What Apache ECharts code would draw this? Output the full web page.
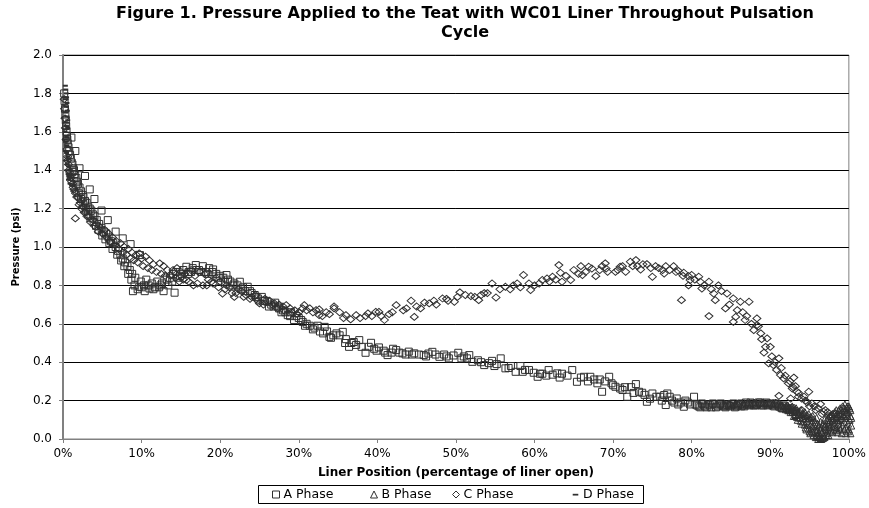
<!DOCTYPE html>
<html><head><meta charset="utf-8">
<script src="https://cdn.jsdelivr.net/npm/echarts@6/dist/echarts.min.js"></script>
<style>html,body{margin:0;padding:0;background:#fff}#c{width:869px;height:508px}</style>
</head><body><div id="c"></div>
<script>
const chartTitle = 'Figure 1. Pressure Applied to the Teat with WC01 Liner Throughout Pulsation\nCycle';
const xAxisTitle = 'Liner Position (percentage of liner open)';
const yAxisTitle = 'Pressure (psi)';
const seriesNames = ['A Phase', 'B Phase', 'C Phase', 'D Phase'];

// [liner position %, pressure psi]
const phaseA = [
[0.15,1.8],[0.2,1.76],[0.25,1.72],[0.3,1.69],[0.35,1.66],[0.4,1.63],[0.45,1.6],[0.5,1.58],[0.55,1.56],[0.6,1.54],[0.7,1.52],[0.8,1.5],[0.9,1.48],[1.0,1.46],[1.07,1.57],[1.1,1.44],[1.2,1.43],[1.3,1.41],[1.4,1.4],[1.5,1.38],[1.57,1.5],[1.7,1.36],[1.8,1.34],[1.9,1.33],[2.1,1.41],[2.1,1.31],[2.3,1.29],[2.5,1.27],[2.6,1.26],[2.8,1.37],[2.8,1.24],[3.0,1.23],[3.2,1.21],[3.4,1.3],[3.4,1.2],[3.6,1.19],[3.8,1.17],[4.0,1.25],[4.0,1.16],[4.3,1.14],[4.6,1.12],[4.9,1.19],[4.9,1.1],[5.2,1.08],[5.5,1.07],[5.7,1.14],[5.8,1.05],[6.1,1.03],[6.4,1.02],[6.7,1.08],[6.7,1.0],[7.0,0.98],[7.3,0.96],[7.6,1.045],[7.6,0.94],[7.9,0.92],[8.2,0.9],[8.6,1.015],[8.5,0.88],[8.9,0.77],[8.8,0.86],[9.2,0.84],[9.7,0.793],[9.8,0.958],[9.9,0.82],[10.3,0.8],[10.6,0.83],[11.0,0.784],[11.3,0.81],[11.7,0.79],[12.0,0.82],[12.4,0.8],[12.8,0.77],[13.2,0.83],[13.6,0.84],[14.2,0.762],[14.0,0.86],[14.4,0.87],[14.9,0.85],[15.3,0.88],[15.7,0.897],[16.0,0.87],[16.5,0.89],[16.9,0.906],[17.3,0.88],[17.8,0.9],[18.2,0.87],[18.6,0.89],[19.1,0.883],[19.5,0.86],[20.0,0.85],[20.4,0.84],[20.8,0.854],[21.3,0.82],[21.8,0.81],[22.5,0.819],[22.9,0.79],[23.5,0.793],[24.0,0.76],[24.4,0.75],[24.8,0.732],[25.3,0.74],[25.7,0.72],[26.0,0.715],[26.5,0.7],[27.0,0.71],[27.5,0.68],[28.0,0.67],[28.6,0.645],[29.0,0.66],[29.4,0.62],[30.0,0.63],[30.5,0.61],[31.0,0.6],[31.8,0.571],[32.4,0.59],[33.3,0.584],[33.9,0.532],[34.1,0.527],[34.8,0.55],[35.6,0.558],[36.0,0.52],[36.4,0.48],[37.0,0.505],[37.7,0.515],[38.5,0.449],[39.2,0.501],[39.6,0.47],[40.2,0.477],[40.8,0.46],[41.3,0.437],[42.0,0.47],[42.4,0.463],[43.2,0.446],[44.0,0.455],[44.7,0.446],[45.3,0.44],[45.9,0.437],[46.5,0.445],[47.0,0.454],[47.9,0.428],[48.5,0.44],[49.1,0.42],[49.7,0.435],[50.3,0.449],[51.0,0.43],[51.7,0.437],[52.1,0.402],[52.8,0.41],[53.6,0.385],[54.2,0.395],[54.6,0.407],[55.2,0.39],[55.7,0.42],[56.3,0.368],[57.0,0.38],[57.6,0.35],[58.2,0.38],[58.8,0.36],[59.3,0.359],[59.9,0.345],[60.4,0.324],[61.0,0.34],[61.8,0.359],[62.3,0.335],[62.9,0.342],[63.5,0.34],[64.2,0.33],[64.8,0.359],[65.4,0.298],[65.9,0.32],[66.3,0.324],[67.1,0.324],[67.6,0.31],[68.0,0.29],[68.6,0.246],[69.0,0.3],[69.5,0.324],[70.0,0.28],[70.3,0.272],[70.9,0.263],[71.2,0.255],[71.8,0.22],[72.3,0.27],[72.9,0.286],[73.3,0.246],[73.7,0.241],[74.3,0.194],[75.0,0.237],[75.5,0.22],[76.0,0.22],[76.5,0.229],[76.7,0.177],[76.9,0.237],[77.5,0.2],[78.1,0.211],[78.6,0.19],[79.0,0.168],[79.5,0.19],[80.3,0.22],[80.5,0.18],[80.9,0.17],[81.3,0.185],[81.7,0.17],[82.1,0.18],[82.5,0.165],[82.9,0.18],[83.3,0.17],[83.7,0.185],[84.1,0.17],[84.5,0.18],[84.9,0.17],[85.3,0.185],[85.7,0.17],[86.1,0.18],[86.5,0.175],[86.9,0.19],[87.3,0.175],[87.7,0.185],[88.1,0.175],[88.5,0.19],[88.9,0.175],[89.3,0.185],[89.7,0.175],[90.1,0.185],[90.5,0.17],[90.9,0.18],[91.3,0.165],[91.7,0.175],[92.1,0.16],[92.5,0.15],[92.9,0.14],[93.3,0.13],
[1.2,1.39],[1.45,1.36],[1.7,1.32],[2.0,1.28],[2.3,1.25],[2.6,1.22],[2.9,1.2],[3.2,1.17],[3.5,1.15],[3.9,1.13],[4.2,1.11],[4.5,1.09],[5.0,1.06],[5.4,1.04],[5.9,1.02],[6.3,0.99],[6.9,0.96],[7.4,0.93],[7.8,0.9],[8.3,0.86],[8.7,0.83],[9.1,0.8],[9.5,0.78],[10.0,0.79],[10.4,0.77],[10.9,0.8],[11.5,0.78],[12.2,0.79],[12.6,0.81],[13.4,0.8],[13.9,0.82],[14.6,0.84],[15.1,0.86],[15.9,0.86],[16.3,0.87],[17.0,0.88],[17.6,0.87],[18.4,0.86],[19.0,0.87],[19.8,0.84],[20.6,0.82],[21.0,0.83],[21.6,0.8],[22.2,0.8],[22.7,0.78],[23.2,0.77],[23.8,0.77],[24.6,0.74],[25.5,0.72],[26.2,0.69],[26.8,0.69],[27.3,0.69],[27.8,0.66],[28.3,0.66],[28.9,0.64],[29.7,0.64],[30.3,0.62],[30.8,0.59],[31.4,0.59],[32.0,0.58],[32.7,0.56],[33.1,0.55],[33.6,0.56],[34.4,0.54],[35.2,0.54],[35.9,0.5],[36.7,0.5],[37.3,0.49],[38.0,0.48],[38.9,0.48],[39.9,0.46],[41.0,0.45],[41.8,0.45],[42.8,0.45],[43.6,0.44],[44.4,0.44],[46.2,0.43],[47.4,0.44],[48.8,0.43],[50.7,0.42],[51.4,0.42],[53.2,0.4],[54.9,0.38],[56.7,0.37],[58.5,0.35],[60.7,0.34],[61.5,0.33],[63.2,0.32],[66.8,0.3],[68.3,0.31],[69.8,0.29],[71.5,0.27],[72.6,0.24],[74.0,0.23],[74.7,0.21],[76.2,0.2],[77.2,0.22],[77.8,0.19],[78.3,0.18],[79.2,0.2],[79.8,0.18],
[80.7,0.175],[81.1,0.165],[81.5,0.18],[81.9,0.165],[82.3,0.175],[82.7,0.185],[83.1,0.165],[83.5,0.18],[83.9,0.175],[84.3,0.165],[84.7,0.175],[85.1,0.18],[85.5,0.165],[85.9,0.175],[86.3,0.185],[86.7,0.17],[87.1,0.18],[87.5,0.19],[87.9,0.175],[88.3,0.18],[88.7,0.19],[89.1,0.175],[89.5,0.19],[89.9,0.18],[90.3,0.175],[90.7,0.185],[91.1,0.17],[91.5,0.16],[91.9,0.17],[92.3,0.155],[92.7,0.16],[93.1,0.145]
];

const phaseB = [
[84.3,0.175],[84.7,0.185],[85.1,0.175],[85.5,0.18],[85.9,0.185],[86.3,0.17],[86.7,0.18],[87.1,0.185],[87.5,0.18],[87.9,0.19],[88.3,0.18],[88.7,0.185],[89.1,0.19],[89.5,0.18],[89.9,0.19],[90.3,0.18],[90.7,0.19],[91.0,0.18],[91.5,0.175],[92.0,0.17],[92.5,0.16],[93.0,0.15],[93.5,0.14],[94.0,0.13],[94.5,0.12],[95.0,0.11],[95.5,0.1],[96.0,0.08],[96.5,0.06],[97.0,0.07],[97.5,0.09],[98.0,0.11],[98.5,0.13],[99.0,0.15],[99.4,0.16],[99.8,0.17],[100.2,0.15],
[92.0,0.155],[92.6,0.14],[93.2,0.125],[93.8,0.11],[94.3,0.09],[94.8,0.075],[95.3,0.06],[95.7,0.045],[96.2,0.03],[96.6,0.035],[97.0,0.05],[97.4,0.065],[97.8,0.08],[98.2,0.09],[98.6,0.1],[99.0,0.1],[99.4,0.11],[99.8,0.12],[100.1,0.1],
[91.6,0.16],[92.3,0.15],[93.0,0.12],[93.5,0.1],[94.0,0.08],[94.5,0.06],[95.0,0.04],[95.5,0.02],[95.8,0.01],[96.1,0.0],[96.4,0.005],[96.8,0.015],[97.2,0.03],[97.6,0.04],[98.0,0.05],[98.4,0.06],[98.8,0.06],[99.2,0.07],[99.6,0.06],[100.0,0.05],[100.3,0.07],
[93.7,0.13],[94.2,0.11],[94.7,0.095],[95.2,0.08],[95.6,0.07],[96.0,0.05],[96.3,0.02],[97.3,0.045],[98.7,0.08],[99.3,0.13],[99.7,0.14],[100.2,0.12],
[92.8,0.17],[93.3,0.16],[93.9,0.15],[94.4,0.14],[94.9,0.13],[95.4,0.12],[95.9,0.11],[96.4,0.09],[96.9,0.1],[97.4,0.11],[97.9,0.13],[98.4,0.15],[98.9,0.16],[99.5,0.18],[100.0,0.17],[94.6,0.05],[95.1,0.03],[95.4,0.04],[95.9,0.02],[96.2,0.01],[96.5,0.0],[96.9,0.01],[97.4,0.02],[97.9,0.035],[98.4,0.045],[98.9,0.05],[99.4,0.05],[99.9,0.04],[100.2,0.03],
[92.2,0.175],[92.7,0.165],[93.2,0.155],[93.7,0.145],[94.2,0.135],[94.7,0.125],[95.2,0.115],[95.7,0.09],[96.2,0.07],[96.7,0.08],[97.2,0.1],[97.7,0.12],[98.2,0.14],[98.7,0.15],[99.2,0.17],[99.7,0.16],[100.1,0.16],
[93.4,0.115],[93.9,0.095],[94.4,0.075],[94.9,0.055],[95.4,0.035],[95.9,0.035],[96.4,0.045],[96.9,0.06],[97.4,0.08],[97.9,0.1],[98.4,0.11],[98.9,0.12],[99.4,0.09],[99.9,0.08],[100.3,0.11],[96.0,0.015],[96.7,0.005],[97.1,0.02],[97.6,0.06],[98.1,0.07],[98.6,0.035],[99.1,0.03],[99.6,0.03]
];

const phaseC = [
[99.5,0.12],[99.0,0.1],[98.5,0.11],[98.0,0.13],[97.5,0.12],[97.0,0.15],[96.8,0.142],[96.4,0.182],[96.1,0.16],[95.6,0.17],[95.3,0.185],[94.9,0.246],[94.5,0.2],[94.0,0.211],[94.0,0.15],[93.6,0.22],[93.4,0.246],[93.2,0.275],[93.0,0.32],[92.8,0.263],[92.6,0.211],[92.3,0.29],[91.7,0.316],[91.3,0.333],[91.1,0.42],[91.1,0.225],[90.8,0.36],[90.4,0.385],[90.0,0.48],[89.8,0.394],[89.6,0.524],[89.2,0.45],[88.8,0.55],[88.5,0.587],[88.3,0.593],[88.3,0.628],[87.9,0.567],[87.3,0.715],[86.8,0.62],[86.2,0.715],[85.8,0.671],[85.6,0.636],[85.3,0.61],[85.3,0.732],[84.5,0.758],[84.3,0.68],[83.4,0.80],[83.0,0.723],[82.8,0.758],[82.2,0.819],[82.2,0.64],[81.3,0.784],[81.1,0.819],[80.9,0.845],[80.0,0.854],[79.8,0.828],[79.6,0.80],[79.6,0.848],[79.0,0.866],[78.7,0.723],[78.3,0.876],[77.7,0.9],[76.7,0.9],[76.5,0.862],[76.3,0.88],[75.4,0.9],[75.0,0.845],[74.3,0.911],[73.5,0.883],[73.1,0.9],[72.9,0.932],[72.2,0.923],[71.6,0.871],[70.9,0.897],[70.3,0.871],[69.3,0.871],[69.1,0.888],[69.0,0.915],[67.8,0.848],[67.3,0.888],[66.9,0.897],[66.1,0.854],[65.9,0.9],[65.0,0.88],[64.6,0.828],[63.5,0.819],[63.3,0.866],[63.1,0.906],[62.3,0.845],[61.6,0.836],[61.0,0.828],[60.6,0.81],[59.5,0.776],[59.3,0.81],[58.6,0.854],[57.8,0.81],[56.3,0.793],[55.1,0.737],[54.6,0.81],[53.6,0.76],[52.9,0.723],[51.9,0.744],[50.5,0.764],[49.8,0.715],[49.0,0.72],[48.3,0.732],[47.5,0.7],[46.6,0.706],[45.5,0.68],[44.7,0.636],[44.3,0.72],[43.3,0.67],[42.4,0.697],[41.5,0.65],[40.9,0.62],[40.2,0.662],[39.8,0.662],[38.8,0.654],[38.5,0.64],[37.3,0.645],[36.6,0.623],[36.0,0.645],[35.2,0.66],[34.5,0.69],[34.5,0.68],[33.5,0.66],[32.6,0.675],[32.6,0.645],[32.2,0.671],[31.4,0.68],[30.7,0.697],[30.5,0.68],[30.0,0.66],[29.5,0.67],[28.9,0.68],[28.4,0.697],[28.0,0.69],[27.5,0.7],[26.9,0.706],[26.3,0.72],[25.7,0.73],[25.0,0.706],[24.5,0.75],[24.0,0.74],[23.3,0.749],[22.7,0.77],[22.3,0.78],[21.8,0.74],[21.2,0.79],[20.8,0.8],[20.3,0.758],[20.0,0.82],[19.5,0.84],[19.1,0.81],[18.5,0.83],[18.0,0.86],[17.8,0.80],[17.4,0.87],[16.8,0.85],[16.3,0.88],[15.7,0.828],[15.5,0.86],[15.0,0.87],[14.5,0.89],[14.0,0.88],[13.3,0.88],[12.8,0.9],[12.3,0.915],[11.5,0.91],[11.0,0.93],[10.5,0.95],[10.0,0.94],[9.7,0.967],[9.3,0.96],[8.8,0.97],[8.3,0.99],[7.8,1.0],[7.3,1.02],[6.8,1.03],[6.3,1.05],[5.8,1.07],[5.3,1.09],[4.8,1.1],[4.3,1.12],[3.8,1.14],[3.3,1.16],[2.9,1.18],[2.5,1.21],[2.2,1.23],[1.9,1.26],[1.57,1.149],[1.6,1.28],[1.4,1.3],[1.2,1.33],[1.0,1.36],[0.85,1.39],[0.7,1.43],[0.6,1.47],[0.5,1.51],[0.4,1.56],[0.3,1.62],[0.25,1.67],[0.2,1.72],[0.15,1.77],
[0.55,1.45],[0.75,1.4],[0.95,1.37],[1.1,1.34],[1.3,1.31],[1.5,1.29],[1.75,1.26],[2.05,1.22],[2.35,1.2],[2.7,1.18],[3.05,1.16],[3.5,1.13],[4.0,1.11],[4.5,1.08],[5.0,1.07],[5.6,1.05],[6.0,1.03],[6.6,1.01],[7.1,0.99],[7.6,0.97],[8.1,0.96],[8.6,0.94],[9.0,0.93],[9.5,0.92],[10.2,0.9],[10.8,0.89],[11.3,0.88],[11.9,0.87],[12.5,0.86],[13.0,0.85],[13.7,0.85],[14.3,0.84],[14.8,0.82],[15.3,0.83],[16.0,0.82],[16.6,0.8],[17.1,0.81],[18.3,0.8],[18.9,0.82],[19.8,0.79],[20.6,0.78],[21.5,0.76],[22.0,0.76],[23.0,0.74],[23.8,0.73],[24.8,0.72],[25.5,0.7],[26.6,0.7],[27.3,0.68],[28.1,0.67],[29.1,0.66],[29.8,0.65],[31.0,0.67],[31.8,0.66],[33.0,0.64],[33.9,0.65],[35.7,0.63],[37.8,0.63],[39.3,0.64],[40.5,0.64],[41.9,0.66],[43.7,0.68],[45.0,0.69],[46.0,0.71],[47.2,0.72],[48.8,0.73],[50.2,0.74],[51.2,0.75],[52.4,0.74],[53.2,0.75],[54.0,0.76],[55.6,0.78],[56.9,0.78],[57.3,0.8],[58.2,0.79],[60.0,0.8],[61.9,0.82],[62.7,0.83],[64.0,0.85],[65.6,0.86],[66.5,0.87],[68.3,0.88],[68.6,0.9],[70.6,0.88],[71.2,0.9],[72.5,0.9],[73.8,0.91],[74.8,0.89],[75.8,0.89],[77.2,0.88],[78.0,0.87],[78.9,0.85],[80.4,0.83],[81.6,0.8],[82.5,0.78],[83.8,0.77],[84.8,0.7],[86.5,0.66],[87.0,0.64],[87.6,0.6],[88.9,0.52],[89.4,0.48],[90.2,0.43],[90.6,0.4],[91.4,0.37],[91.9,0.33],[92.5,0.3],[92.9,0.27],[93.6,0.24],[94.3,0.22],[94.7,0.19],[95.0,0.17],[95.8,0.15],[96.6,0.13],[97.3,0.14],[97.8,0.12],[98.3,0.13],[98.8,0.12],[99.3,0.14],[99.8,0.13]
];

const phaseD = [
[0.3,1.84],[0.35,1.82],[0.4,1.8],[0.45,1.78],[0.3,1.77],[0.5,1.75],[0.4,1.73],[0.55,1.71],[0.35,1.7],[0.5,1.68],[0.6,1.66],[0.3,1.65],[0.45,1.63],[0.6,1.62],[0.25,1.6],[0.4,1.58],[0.55,1.57],[0.2,1.56],[0.35,1.55],[0.5,1.53],[0.65,1.52],[0.3,1.5],[0.45,1.49],[0.6,1.47],[0.75,1.46],[0.4,1.45],[0.55,1.43],[0.7,1.42],[0.85,1.4],[0.5,1.4],[0.65,1.38],[0.8,1.37],[0.95,1.36],[0.7,1.35],[0.9,1.33],[1.1,1.32]
];

const xMin = 0, xMax = 100, xStep = 10;
const yMin = 0, yMax = 2, yStep = 0.2;

const FONT = '"DejaVu Sans", "Liberation Sans", Arial, sans-serif';
const INK = '#303030';
const hollow = { color: 'rgba(0,0,0,0)', borderColor: INK, borderWidth: 1, opacity: 1 };
const dashPath = 'path://M0,0 M10,10 M1,4 L9,4 L9,6.5 L1,6.5 Z';

const chart = echarts.init(document.getElementById('c'), null, { renderer: 'canvas' });

function legendFor(i, left, icon, style) {
  return {
    data: [{ name: seriesNames[i], icon: icon, itemStyle: style }],
    left: left, top: 488, padding: 0,
    itemWidth: 7, itemHeight: 7, itemGap: 0,
    textStyle: { fontFamily: FONT, fontSize: 12.5, color: '#000', padding: [0, 0, 0, -1] },
    selectedMode: false
  };
}

chart.setOption({
  backgroundColor: '#fff',
  animation: false,
  grid: { left: 63, right: 18, top: 55, bottom: 69, show: true, borderColor: '#808080', borderWidth: 1 },
  legend: [
    legendFor(0, 272, 'rect', hollow),
    legendFor(1, 370, 'triangle', hollow),
    legendFor(2, 452, 'diamond', hollow),
    legendFor(3, 572, dashPath, { color: INK, borderWidth: 0 })
  ],
  graphic: [{
    type: 'text', silent: true, x: 465, y: 4,
    style: { text: chartTitle, align: 'center', verticalAlign: 'top', fontFamily: FONT, fontSize: 16, fontWeight: 'bold', lineHeight: 19, fill: '#000' }
  }, {
    type: 'rect', silent: true,
    shape: { x: 258.5, y: 485.5, width: 385, height: 18 },
    style: { fill: 'none', stroke: '#000', lineWidth: 1 }
  }],
  xAxis: {
    type: 'value', min: xMin, max: xMax, interval: xStep,
    name: xAxisTitle, nameLocation: 'middle', nameGap: 28,
    nameTextStyle: { fontFamily: FONT, fontSize: 12, fontWeight: 'bold', color: '#000' },
    axisLine: { show: true, lineStyle: { color: '#808080', width: 1 } },
    axisTick: { show: true, inside: false, length: 4, lineStyle: { color: '#808080' } },
    axisLabel: { formatter: v => v + '%', fontFamily: FONT, fontSize: 12, color: '#000', margin: 9 },
    splitLine: { show: false }
  },
  yAxis: {
    type: 'value', min: yMin, max: yMax, interval: yStep,
    name: yAxisTitle, nameLocation: 'middle', nameGap: 42, nameRotate: 90,
    nameTextStyle: { fontFamily: FONT, fontSize: 10, fontWeight: 'bold', color: '#000' },
    axisLine: { show: true, lineStyle: { color: '#808080', width: 2 } },
    axisTick: { show: true, inside: false, length: 4, lineStyle: { color: '#808080' } },
    axisLabel: { formatter: v => v.toFixed(1), fontFamily: FONT, fontSize: 12, color: '#000', margin: 11 },
    splitLine: { show: true, lineStyle: { color: '#000', width: 1 } }
  },
  series: [
    { name: seriesNames[0], type: 'scatter', data: phaseA, symbol: 'rect', symbolSize: 7, itemStyle: hollow, clip: false, z: 3 },
    { name: seriesNames[1], type: 'scatter', data: phaseB, symbol: 'triangle', symbolSize: 7, itemStyle: hollow, clip: false, z: 3 },
    { name: seriesNames[2], type: 'scatter', data: phaseC, symbol: 'diamond', symbolSize: [8, 7], itemStyle: hollow, clip: false, z: 3 },
    { name: seriesNames[3], type: 'scatter', data: phaseD, symbol: 'rect', symbolSize: [5, 2], itemStyle: { color: INK, opacity: 1 }, clip: false, z: 3 }
  ]
});
</script>
</body></html>
